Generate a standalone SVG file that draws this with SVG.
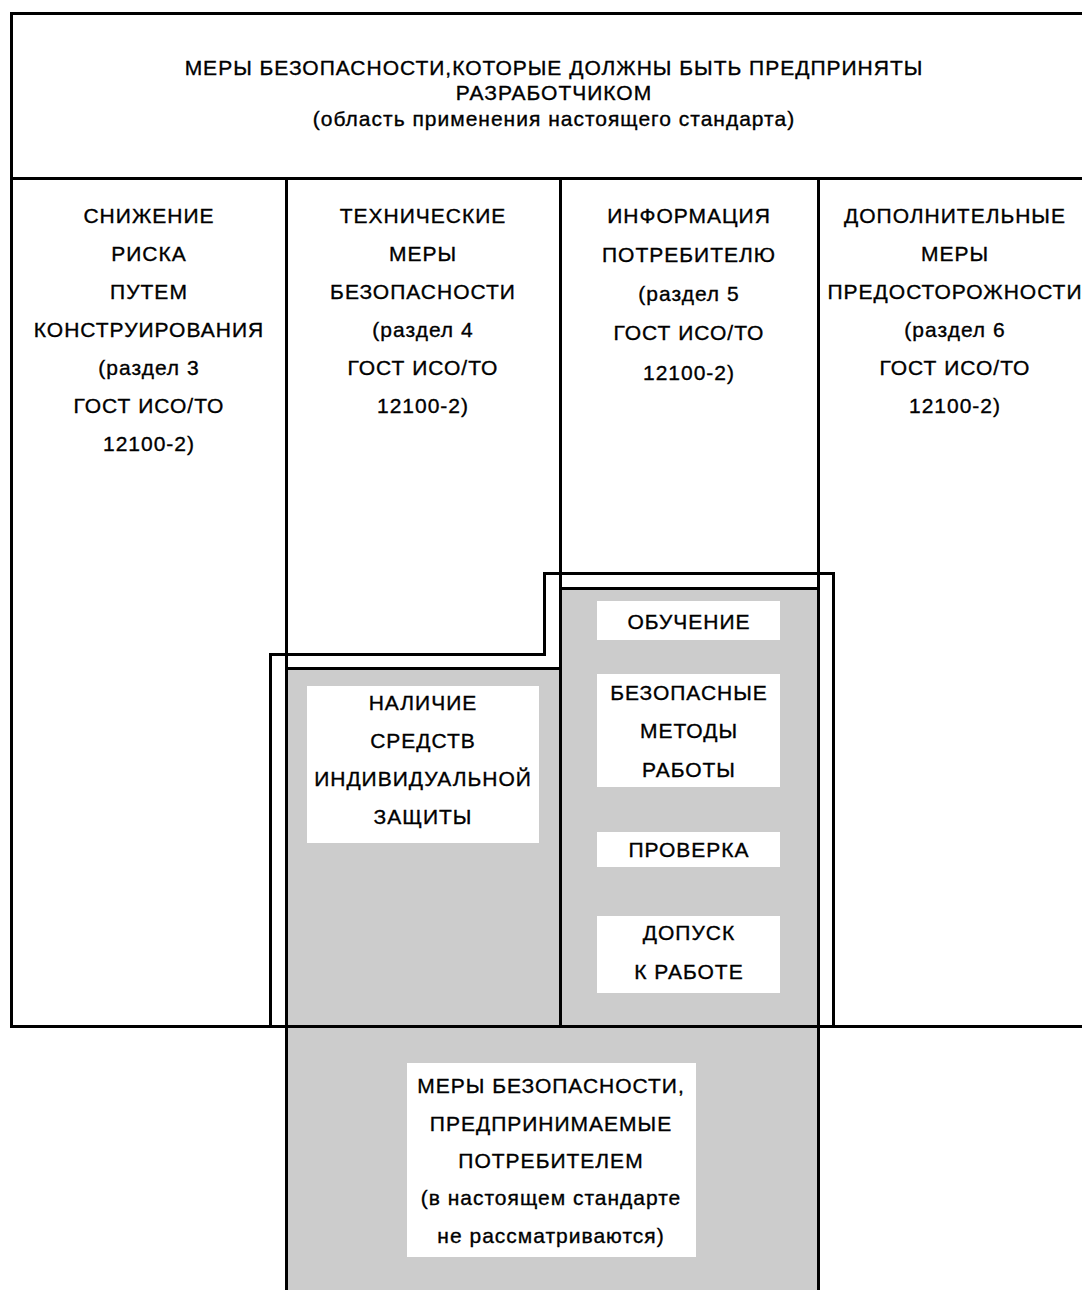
<svg xmlns="http://www.w3.org/2000/svg" width="1082" height="1290" viewBox="0 0 1082 1290">
<style>
.t{font-family:"Liberation Sans",Arial,sans-serif;font-size:21px;fill:#000;stroke:#000;stroke-width:0.35px;text-anchor:middle;letter-spacing:1px}
.ln{stroke:#000;stroke-width:3;fill:none}
.gray{fill:#cccccc}
.wb{fill:#ffffff}
</style>
<rect width="1082" height="1290" fill="#fff"/>
<g id="fills">
<rect class="gray" x="286" y="668" width="274" height="358"/>
<rect class="gray" x="560" y="588" width="258" height="438"/>
<rect class="gray" x="286" y="1026" width="532" height="264"/>
</g>
<g id="connectors">
<line class="ln" x1="10" y1="13.5" x2="1082" y2="13.5"/>
<line class="ln" x1="10" y1="178.5" x2="1082" y2="178.5"/>
<line class="ln" x1="11.5" y1="12" x2="11.5" y2="1028"/>
<line class="ln" x1="10" y1="1026.5" x2="1082" y2="1026.5"/>
<line class="ln" x1="286.5" y1="178" x2="286.5" y2="1290"/>
<line class="ln" x1="560.5" y1="178" x2="560.5" y2="1026"/>
<line class="ln" x1="818.5" y1="178" x2="818.5" y2="1290"/>
<line class="ln" x1="286" y1="668.5" x2="560" y2="668.5"/>
<line class="ln" x1="560" y1="588.5" x2="818" y2="588.5"/>
<path class="ln" d="M270.5 1026 V654.5 H544.5 V573.5 H833.5 V1026"/>
</g>
<g id="title">
<text class="t" x="554" y="75">МЕРЫ БЕЗОПАСНОСТИ,КОТОРЫЕ ДОЛЖНЫ БЫТЬ ПРЕДПРИНЯТЫ</text>
<text class="t" x="554" y="100">РАЗРАБОТЧИКОМ</text>
<text class="t" x="554" y="126">(область применения настоящего стандарта)</text>
</g>
<g id="col1">
<text class="t" x="149" y="223">СНИЖЕНИЕ</text>
<text class="t" x="149" y="261">РИСКА</text>
<text class="t" x="149" y="299">ПУТЕМ</text>
<text class="t" x="149" y="337">КОНСТРУИРОВАНИЯ</text>
<text class="t" x="149" y="375">(раздел 3</text>
<text class="t" x="149" y="413">ГОСТ ИСО/ТО</text>
<text class="t" x="149" y="451">12100-2)</text>
</g>
<g id="col2">
<text class="t" x="423" y="223">ТЕХНИЧЕСКИЕ</text>
<text class="t" x="423" y="261">МЕРЫ</text>
<text class="t" x="423" y="299">БЕЗОПАСНОСТИ</text>
<text class="t" x="423" y="337">(раздел 4</text>
<text class="t" x="423" y="375">ГОСТ ИСО/ТО</text>
<text class="t" x="423" y="413">12100-2)</text>
</g>
<g id="col3">
<text class="t" x="689" y="223">ИНФОРМАЦИЯ</text>
<text class="t" x="689" y="262">ПОТРЕБИТЕЛЮ</text>
<text class="t" x="689" y="301">(раздел 5</text>
<text class="t" x="689" y="340">ГОСТ ИСО/ТО</text>
<text class="t" x="689" y="380">12100-2)</text>
</g>
<g id="col4">
<text class="t" x="955" y="223">ДОПОЛНИТЕЛЬНЫЕ</text>
<text class="t" x="955" y="261">МЕРЫ</text>
<text class="t" x="955" y="299">ПРЕДОСТОРОЖНОСТИ</text>
<text class="t" x="955" y="337">(раздел 6</text>
<text class="t" x="955" y="375">ГОСТ ИСО/ТО</text>
<text class="t" x="955" y="413">12100-2)</text>
</g>
<g id="ppe">
<rect class="wb" x="307" y="686" width="232" height="157"/>
<text class="t" x="423" y="710">НАЛИЧИЕ</text>
<text class="t" x="423" y="748">СРЕДСТВ</text>
<text class="t" x="423" y="786">ИНДИВИДУАЛЬНОЙ</text>
<text class="t" x="423" y="824">ЗАЩИТЫ</text>
</g>
<g id="training">
<rect class="wb" x="597" y="601" width="183" height="39"/>
<text class="t" x="689" y="629">ОБУЧЕНИЕ</text>
</g>
<g id="safe-methods">
<rect class="wb" x="597" y="674" width="183" height="113"/>
<text class="t" x="689" y="700">БЕЗОПАСНЫЕ</text>
<text class="t" x="689" y="738">МЕТОДЫ</text>
<text class="t" x="689" y="777">РАБОТЫ</text>
</g>
<g id="check">
<rect class="wb" x="597" y="832" width="183" height="35"/>
<text class="t" x="689" y="857">ПРОВЕРКА</text>
</g>
<g id="admission">
<rect class="wb" x="597" y="916" width="183" height="77"/>
<text class="t" x="689" y="940">ДОПУСК</text>
<text class="t" x="689" y="979">К РАБОТЕ</text>
</g>
<g id="user-measures">
<rect class="wb" x="407" y="1063" width="289" height="194"/>
<text class="t" x="551" y="1093">МЕРЫ БЕЗОПАСНОСТИ,</text>
<text class="t" x="551" y="1131">ПРЕДПРИНИМАЕМЫЕ</text>
<text class="t" x="551" y="1168">ПОТРЕБИТЕЛЕМ</text>
<text class="t" x="551" y="1205">(в настоящем стандарте</text>
<text class="t" x="551" y="1243">не рассматриваются)</text>
</g>
</svg>
